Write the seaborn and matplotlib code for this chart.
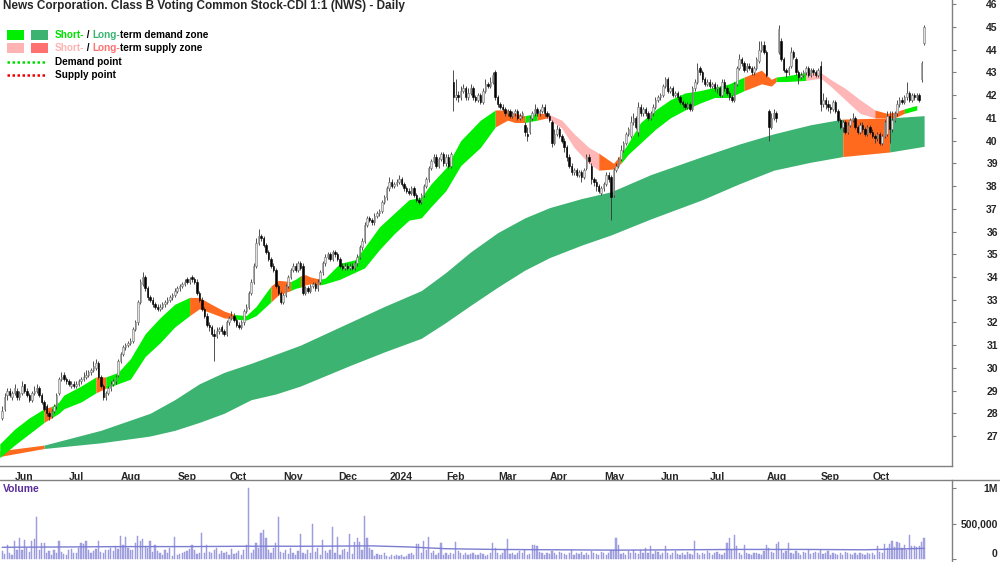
import numpy as np
import pandas as pd
import matplotlib
matplotlib.use("Agg")
import matplotlib.pyplot as plt
import matplotlib.transforms as mtransforms
from matplotlib.patches import Rectangle
from matplotlib.lines import Line2D
import seaborn as sns

title = "News Corporation. Class B Voting Common Stock-CDI 1:1 (NWS) - Daily"
start_date = "2023-05-26"
month_labels = ["Jun", "Jul", "Aug", "Sep", "Oct", "Nov", "Dec", "2024", "Feb",
                "Mar", "Apr", "May", "Jun", "Jul", "Aug", "Sep", "Oct"]

# daily candles
opens = [
    27.8, 28.2, 28.8, 29.0, 28.7, 28.9, 29.0, 28.7, 28.9, 29.3,
    29.0, 28.8, 28.6, 28.9, 29.0, 29.1, 28.8, 28.5, 28.3, 28.0,
    27.9, 28.1, 28.3, 28.9, 29.5, 29.7, 29.5, 29.4, 29.2, 29.3,
    29.2, 29.3, 29.4, 29.5, 29.6, 29.7, 29.8, 29.9, 30.0, 30.2,
    29.6, 29.2, 28.7, 28.9, 29.1, 29.3, 29.4, 29.7, 30.3, 30.6,
    30.9, 31.0, 31.1, 31.2, 31.7, 32.0, 32.9, 33.7, 34.0, 33.5,
    33.1, 33.0, 32.8, 32.7, 32.6, 32.7, 32.8, 32.9, 33.0, 33.1,
    33.2, 33.4, 33.5, 33.6, 33.7, 33.9, 33.8, 34.0, 33.9, 33.8,
    33.3, 33.0, 32.6, 32.3, 31.9, 31.8, 31.5, 31.4, 31.6, 31.8,
    31.6, 31.5, 32.0, 32.2, 32.3, 32.1, 31.9, 31.8, 32.0, 32.5,
    32.7, 33.3, 33.8, 34.5, 35.5, 35.8, 35.7, 35.4, 35.1, 34.8,
    34.5, 34.3, 33.6, 33.3, 32.9, 33.2, 33.6, 34.0, 34.3, 34.5,
    34.3, 34.6, 34.5, 33.3, 33.5, 33.4, 33.6, 33.7, 33.5, 33.8,
    34.2, 34.6, 34.9, 35.0, 34.8, 35.1, 35.0, 34.8, 34.5, 34.4,
    34.5, 34.4, 34.5, 34.4, 34.6, 34.9, 35.3, 35.6, 36.3, 36.6,
    36.5, 36.4, 36.7, 36.8, 36.9, 37.3, 37.5, 37.9, 38.2, 38.0,
    38.1, 38.2, 38.3, 38.1, 37.9, 37.8, 37.7, 37.9, 37.6, 37.4,
    37.3, 37.6, 38.0, 38.3, 38.8, 39.1, 39.3, 38.9, 39.2, 39.4,
    39.0, 39.3, 38.9, 42.6, 41.9, 42.0, 41.9, 42.2, 42.3, 41.9,
    42.1, 42.3, 41.9, 41.8, 42.0, 41.7, 42.2, 42.5, 42.4, 42.6,
    43.0, 41.9, 41.6, 41.5, 41.4, 41.2, 41.3, 41.1, 41.2, 41.3,
    41.0, 41.1, 40.7, 40.3, 40.4, 41.0, 41.2, 41.4, 41.2, 41.3,
    41.5, 41.2, 41.1, 40.8, 39.9, 40.3, 40.5, 40.2, 40.0, 39.7,
    39.3, 38.9, 38.6, 38.7, 38.5, 38.6, 38.4, 38.8, 39.3, 38.9,
    38.3, 38.2, 38.0, 37.7, 37.9, 38.1, 38.5, 38.4, 37.6, 38.7,
    38.9, 39.2, 39.6, 39.9, 40.3, 40.2, 40.8, 41.0, 40.4, 41.5,
    41.2, 41.4, 41.2, 41.0, 41.2, 41.5, 41.8, 41.9, 42.0, 42.4,
    42.7, 42.2, 42.3, 42.0, 42.1, 41.9, 41.7, 41.6, 41.5, 41.6,
    41.4, 42.3, 42.6, 43.2, 43.0, 42.7, 42.5, 42.6, 42.4, 42.5,
    42.3, 42.3, 42.0, 42.6, 42.3, 42.1, 41.9, 41.8, 42.5, 43.2,
    43.6, 43.4, 43.1, 43.3, 43.2, 43.0, 43.2, 43.5, 44.0, 44.2,
    43.9, 41.3, 40.6, 41.0, 41.2, 43.9, 44.4, 43.6, 43.1, 43.0,
    43.3, 43.9, 43.6, 43.0, 42.8, 42.9, 43.0, 43.2, 42.9, 43.1,
    43.0, 42.9, 43.3, 41.6, 41.8, 41.6, 41.5, 41.4, 41.7, 41.3,
    40.9, 40.6, 40.8, 40.4, 40.7, 40.9, 41.0, 40.6, 40.4, 40.7,
    40.5, 40.3, 40.6, 40.4, 40.2, 40.1, 40.3, 39.9, 40.2, 40.3,
    41.1, 40.5, 40.9, 41.2, 41.6, 41.8, 41.7, 41.9, 42.1, 41.8,
    42.0, 41.9, 42.0, 42.7, 44.3,
]
highs = [
    28.3, 28.9, 29.1, 29.1, 29.0, 29.3, 29.1, 29.0, 29.4, 29.3,
    29.1, 28.9, 29.0, 29.2, 29.3, 29.2, 28.9, 28.6, 28.4, 28.1,
    28.2, 28.4, 28.9, 29.6, 29.8, 29.8, 29.6, 29.5, 29.4, 29.4,
    29.4, 29.5, 29.6, 29.8, 29.9, 29.9, 30.0, 30.3, 30.4, 30.3,
    29.7, 29.3, 29.0, 29.2, 29.4, 29.5, 29.7, 30.4, 30.7, 31.0,
    31.1, 31.2, 31.3, 31.8, 32.1, 33.0, 33.9, 34.2, 34.1, 33.6,
    33.2, 33.1, 32.9, 32.8, 32.8, 32.9, 33.0, 33.1, 33.2, 33.3,
    33.5, 33.6, 33.7, 33.8, 33.9, 34.0, 34.0, 34.1, 34.0, 33.9,
    33.4, 33.1, 32.7, 32.4, 32.0, 31.9, 31.7, 31.8, 31.8, 31.9,
    31.7, 32.1, 32.3, 32.5, 32.4, 32.2, 32.0, 32.1, 32.6, 32.8,
    33.4, 33.9, 34.6, 35.7, 36.1, 35.9, 35.8, 35.5, 35.2, 34.9,
    34.6, 34.4, 33.7, 33.4, 33.3, 33.7, 34.1, 34.4, 34.6, 34.6,
    34.7, 34.7, 34.6, 33.6, 33.6, 33.7, 33.8, 33.8, 33.9, 34.3,
    34.7, 35.0, 35.1, 35.1, 35.2, 35.2, 35.1, 34.9, 34.6, 34.6,
    34.6, 34.6, 34.6, 34.7, 35.0, 35.4, 35.7, 36.4, 36.7, 36.7,
    36.6, 36.8, 36.9, 37.0, 37.4, 37.6, 38.0, 38.4, 38.3, 38.2,
    38.3, 38.5, 38.4, 38.2, 38.0, 37.9, 38.0, 38.0, 37.7, 37.5,
    37.7, 38.1, 38.4, 38.9, 39.2, 39.4, 39.4, 39.3, 39.5, 39.5,
    39.4, 39.4, 39.5, 43.1, 42.7, 42.2, 42.4, 42.5, 42.4, 42.3,
    42.5, 42.4, 42.0, 42.1, 42.1, 42.3, 42.7, 42.6, 42.8, 43.0,
    43.1, 42.0, 41.7, 41.6, 41.5, 41.4, 41.4, 41.3, 41.4, 41.4,
    41.2, 41.3, 40.8, 40.6, 41.1, 41.3, 41.6, 41.5, 41.4, 41.6,
    41.6, 41.3, 41.2, 40.9, 40.5, 40.7, 40.6, 40.3, 40.1, 39.8,
    39.4, 39.0, 38.8, 38.8, 38.7, 38.7, 38.8, 39.4, 39.4, 39.0,
    38.4, 38.3, 38.1, 38.0, 38.2, 38.6, 38.6, 38.5, 38.8, 39.0,
    39.3, 39.8, 40.0, 40.4, 40.6, 41.1, 41.2, 41.1, 41.7, 41.6,
    41.5, 41.5, 41.3, 41.3, 41.6, 41.9, 42.0, 42.1, 42.5, 42.8,
    42.8, 42.4, 42.4, 42.2, 42.2, 42.0, 41.8, 41.7, 41.7, 41.7,
    42.4, 42.7, 43.4, 43.3, 43.1, 42.8, 42.7, 42.7, 42.6, 42.6,
    42.5, 42.4, 42.7, 42.7, 42.4, 42.2, 42.0, 42.6, 43.3, 43.8,
    43.7, 43.5, 43.4, 43.4, 43.3, 43.3, 43.7, 44.4, 44.4, 44.4,
    44.0, 41.4, 41.2, 41.4, 41.3, 45.1, 44.5, 43.7, 43.2, 43.3,
    44.1, 44.0, 43.7, 43.1, 43.0, 43.1, 43.3, 43.3, 43.2, 43.2,
    43.1, 43.2, 43.5, 42.1, 41.9, 41.8, 41.6, 41.8, 41.8, 41.4,
    41.0, 40.9, 40.9, 40.8, 41.0, 41.2, 41.1, 40.7, 40.8, 40.8,
    40.6, 40.7, 40.7, 40.5, 40.3, 40.4, 40.4, 40.3, 40.9, 41.3,
    41.3, 41.3, 41.3, 41.8, 41.9, 41.9, 42.0, 42.6, 42.2, 42.1,
    42.1, 42.1, 42.1, 43.5, 45.1,
]
lows = [
    27.7, 28.1, 28.6, 28.7, 28.6, 28.8, 28.6, 28.6, 28.8, 28.9,
    28.7, 28.5, 28.5, 28.8, 28.9, 28.7, 28.4, 28.1, 27.9, 27.7,
    27.8, 28.0, 28.2, 28.8, 29.4, 29.4, 29.3, 29.2, 29.1, 29.1,
    29.1, 29.2, 29.3, 29.4, 29.5, 29.6, 29.7, 29.8, 29.9, 29.5,
    29.1, 28.6, 28.6, 28.8, 29.0, 29.2, 29.3, 29.6, 30.2, 30.5,
    30.8, 30.9, 31.0, 31.1, 31.6, 31.9, 32.8, 33.6, 33.4, 33.0,
    32.9, 32.7, 32.6, 32.5, 32.5, 32.6, 32.7, 32.8, 32.9, 33.0,
    33.1, 33.3, 33.4, 33.5, 33.6, 33.7, 33.7, 33.8, 33.7, 33.2,
    32.9, 32.5, 32.2, 31.8, 31.6, 31.4, 30.3, 31.3, 31.5, 31.5,
    31.4, 31.4, 31.9, 32.1, 32.0, 31.8, 31.7, 31.7, 31.9, 32.4,
    32.6, 33.2, 33.7, 34.4, 35.4, 35.6, 35.3, 35.0, 34.7, 34.4,
    34.2, 33.5, 33.2, 32.8, 32.8, 33.1, 33.5, 33.9, 34.2, 34.2,
    34.2, 34.3, 33.2, 33.2, 33.3, 33.3, 33.5, 33.4, 33.4, 33.7,
    34.1, 34.5, 34.8, 34.7, 34.7, 34.9, 34.7, 34.4, 34.3, 34.3,
    34.3, 34.3, 34.3, 34.3, 34.5, 34.8, 35.2, 35.5, 36.2, 36.4,
    36.3, 36.3, 36.6, 36.7, 36.8, 37.2, 37.4, 37.8, 37.9, 37.9,
    38.0, 38.1, 38.0, 37.8, 37.7, 37.6, 37.6, 37.5, 37.3, 37.2,
    37.2, 37.5, 37.9, 38.2, 38.7, 39.0, 38.8, 38.8, 39.1, 38.9,
    38.9, 38.8, 38.8, 41.3, 41.8, 41.7, 41.8, 42.1, 41.8, 41.8,
    42.0, 41.8, 41.7, 41.7, 41.6, 41.6, 42.1, 42.3, 42.3, 42.5,
    41.8, 41.5, 41.4, 41.3, 41.1, 41.1, 41.0, 41.0, 41.1, 40.9,
    40.9, 41.0, 40.2, 40.0, 40.3, 40.9, 41.1, 41.1, 41.1, 41.2,
    41.1, 41.0, 40.8, 39.7, 39.8, 40.2, 40.1, 39.9, 39.5, 39.1,
    38.8, 38.5, 38.5, 38.4, 38.4, 38.2, 38.3, 38.7, 39.0, 38.1,
    38.0, 37.8, 37.7, 37.6, 37.8, 38.0, 38.2, 36.5, 37.5, 38.6,
    38.8, 39.1, 39.5, 39.8, 40.2, 40.1, 40.7, 40.5, 40.2, 41.1,
    41.1, 41.1, 40.9, 40.9, 41.1, 41.4, 41.7, 41.8, 41.9, 42.3,
    42.1, 42.1, 41.9, 41.9, 41.8, 41.6, 41.5, 41.4, 41.4, 41.3,
    41.3, 42.2, 42.5, 42.9, 42.6, 42.4, 42.4, 42.3, 42.3, 42.2,
    42.1, 41.9, 41.9, 42.2, 42.0, 41.8, 41.7, 41.7, 42.4, 43.1,
    43.3, 43.0, 43.0, 43.1, 42.9, 42.9, 43.1, 43.4, 43.9, 43.8,
    42.8, 40.0, 40.5, 40.9, 40.8, 43.8, 43.5, 43.0, 42.8, 42.9,
    43.2, 43.6, 42.9, 42.5, 42.7, 42.8, 42.9, 42.8, 42.8, 42.9,
    42.8, 42.8, 41.3, 41.5, 41.4, 41.3, 41.2, 41.3, 41.2, 40.8,
    40.5, 40.4, 40.3, 40.3, 40.6, 40.8, 40.5, 40.3, 40.3, 40.4,
    40.2, 40.2, 40.3, 40.1, 39.9, 40.0, 39.8, 39.8, 40.1, 40.2,
    39.9, 40.4, 40.8, 41.1, 41.5, 41.6, 41.6, 41.8, 41.7, 41.7,
    41.8, 41.8, 41.7, 42.6, 44.2,
]
closes = [
    28.1, 28.7, 29.0, 28.8, 28.9, 29.1, 28.7, 28.9, 29.2, 29.0,
    28.8, 28.6, 28.9, 29.0, 29.1, 28.8, 28.5, 28.2, 28.0, 27.9,
    28.1, 28.3, 28.8, 29.5, 29.6, 29.5, 29.4, 29.3, 29.3, 29.2,
    29.3, 29.4, 29.5, 29.6, 29.7, 29.8, 29.9, 30.1, 30.2, 29.6,
    29.2, 28.7, 28.9, 29.1, 29.3, 29.4, 29.6, 30.3, 30.6, 30.9,
    31.0, 31.1, 31.2, 31.7, 32.0, 32.9, 33.8, 34.0, 33.5, 33.1,
    33.0, 32.8, 32.7, 32.6, 32.7, 32.8, 32.9, 33.0, 33.1, 33.2,
    33.4, 33.5, 33.6, 33.7, 33.8, 33.8, 33.9, 33.9, 33.8, 33.3,
    33.0, 32.6, 32.3, 31.9, 31.8, 31.5, 31.4, 31.6, 31.7, 31.6,
    31.5, 32.0, 32.2, 32.3, 32.1, 31.9, 31.8, 32.0, 32.5, 32.7,
    33.3, 33.8, 34.5, 35.5, 35.8, 35.7, 35.4, 35.1, 34.8, 34.5,
    34.3, 33.6, 33.3, 32.9, 33.2, 33.6, 34.0, 34.3, 34.5, 34.3,
    34.6, 34.4, 33.3, 33.5, 33.4, 33.6, 33.7, 33.5, 33.8, 34.2,
    34.6, 34.9, 35.0, 34.8, 35.1, 35.0, 34.8, 34.5, 34.4, 34.5,
    34.4, 34.5, 34.4, 34.6, 34.9, 35.3, 35.6, 36.3, 36.6, 36.5,
    36.4, 36.7, 36.8, 36.9, 37.3, 37.5, 37.9, 38.2, 38.0, 38.1,
    38.2, 38.3, 38.1, 37.9, 37.8, 37.7, 37.9, 37.6, 37.4, 37.3,
    37.6, 38.0, 38.3, 38.8, 39.1, 39.3, 38.9, 39.2, 39.4, 39.0,
    39.3, 38.9, 39.4, 41.9, 42.0, 41.9, 42.2, 42.3, 41.9, 42.1,
    42.3, 41.9, 41.8, 42.0, 41.7, 42.2, 42.5, 42.4, 42.6, 42.9,
    41.9, 41.6, 41.5, 41.4, 41.2, 41.3, 41.1, 41.2, 41.3, 41.0,
    41.1, 41.2, 40.4, 40.2, 41.0, 41.2, 41.4, 41.2, 41.3, 41.5,
    41.2, 41.1, 40.9, 39.9, 40.3, 40.5, 40.2, 40.0, 39.7, 39.3,
    38.9, 38.6, 38.7, 38.5, 38.6, 38.4, 38.7, 39.3, 39.1, 38.3,
    38.2, 38.0, 37.8, 37.9, 38.1, 38.5, 38.3, 37.5, 38.7, 38.9,
    39.2, 39.6, 39.9, 40.3, 40.5, 40.8, 41.0, 40.6, 41.5, 41.2,
    41.4, 41.2, 41.0, 41.2, 41.5, 41.8, 41.9, 42.0, 42.4, 42.7,
    42.2, 42.3, 42.0, 42.1, 41.9, 41.7, 41.6, 41.5, 41.6, 41.4,
    42.3, 42.6, 43.1, 43.0, 42.7, 42.5, 42.6, 42.4, 42.5, 42.3,
    42.3, 42.0, 42.6, 42.3, 42.1, 41.9, 41.8, 42.5, 43.2, 43.6,
    43.4, 43.1, 43.3, 43.2, 43.0, 43.2, 43.6, 44.0, 44.2, 43.9,
    42.9, 40.6, 41.0, 41.2, 41.0, 44.9, 43.6, 43.1, 43.0, 43.2,
    43.9, 43.7, 43.0, 42.8, 42.9, 43.0, 43.2, 42.9, 43.1, 43.0,
    42.9, 43.1, 41.6, 41.8, 41.6, 41.5, 41.4, 41.7, 41.3, 40.9,
    40.6, 40.8, 40.4, 40.7, 40.9, 41.0, 40.6, 40.4, 40.7, 40.5,
    40.3, 40.6, 40.4, 40.2, 40.1, 40.3, 39.9, 40.2, 40.8, 41.1,
    40.5, 40.9, 41.2, 41.6, 41.8, 41.7, 41.9, 42.1, 41.8, 42.0,
    41.9, 42.0, 41.8, 43.4, 45.0,
]
# volume in thousands of shares
volume_k = [
    110, 70, 200, 90, 60, 250, 120, 290, 130, 270,
    150, 100, 250, 280, 590, 120, 230, 230, 80, 110,
    60, 130, 90, 250, 100, 70, 60, 120, 140, 90,
    80, 160, 220, 210, 250, 120, 90, 110, 140, 260,
    100, 80, 130, 120, 150, 110, 190, 140, 320, 200,
    310, 150, 130, 120, 230, 330, 250, 280, 190, 160,
    250, 100, 200, 110, 90, 60, 130, 80, 150, 40,
    310, 50, 70, 80, 100, 110, 140, 200, 120, 70,
    90, 360, 80, 200, 100, 90, 130, 150, 70, 110,
    80, 100, 60, 140, 70, 90, 110, 60, 130, 200,
    1000, 80, 120, 230, 150, 370, 410, 290, 130, 80,
    160, 220, 590, 100, 80, 130, 70, 150, 90, 60,
    110, 350, 90, 70, 120, 80, 500, 100, 150, 60,
    270, 110, 80, 120, 450, 90, 310, 60, 130, 140,
    100, 350, 70, 240, 300, 240, 130, 600, 290, 160,
    120, 40, 70, 60, 50, 80, 40, 30, 60, 40,
    50, 40, 60, 30, 40, 70, 90, 60, 210, 210,
    80, 250, 130, 310, 90, 110, 60, 80, 230, 50,
    90, 60, 80, 70, 240, 110, 90, 60, 80, 50,
    70, 90, 60, 50, 80, 70, 40, 60, 90, 220,
    160, 90, 60, 80, 120, 280, 70, 90, 60, 80,
    110, 90, 130, 60, 70, 200, 200, 190, 100, 80,
    60, 90, 70, 110, 80, 60, 100, 90, 70, 50,
    80, 120, 60, 90, 70, 100, 60, 80, 50, 110,
    90, 70, 60, 100, 80, 60, 90, 120, 130, 300,
    200, 70, 90, 60, 110, 80, 130, 90, 70, 120,
    80, 150, 90, 190, 70, 110, 100, 60, 90, 190,
    80, 60, 90, 110, 70, 50, 80, 60, 100, 70,
    60, 250, 90, 60, 80, 70, 110, 90, 60, 80,
    100, 70, 60, 90, 230, 300, 120, 340, 190, 80,
    60, 200, 90, 70, 60, 80, 90, 70, 60, 110,
    200, 150, 100, 90, 210, 240, 130, 80, 110, 230,
    90, 70, 110, 80, 60, 100, 90, 120, 70, 80,
    100, 90, 120, 70, 80, 110, 60, 90, 70, 50,
    80, 60, 100, 90, 70, 60, 80, 50, 90, 70,
    60, 80, 70, 90, 50, 180, 100, 80, 210, 160,
    210, 260, 170, 240, 220, 150, 200, 130, 340, 180,
    190, 170, 180, 240, 300,
]
vol_avg_idx = [0, 25, 50, 75, 100, 125, 150, 165, 180, 200, 225, 250, 275, 300, 325, 350, 374]
vol_avg_k = [165, 170, 175, 175, 180, 180, 185, 170, 145, 135, 130, 125, 130, 135, 135, 130, 150]

# short-term zone edges (bar index) and zone type of each segment
short_idx = [-1, 5, 11, 17, 20, 23, 25, 32, 38, 40, 42, 47, 52, 58, 64, 70, 76, 80, 84, 90,
             94, 99, 103, 109, 112, 117, 119, 121, 123, 125, 129, 131, 137, 143, 147, 153, 159,
             165, 170, 174, 180, 186, 194, 200, 205, 208, 212, 217, 221, 227, 232, 238, 242,
             248, 251, 254, 259, 265, 271, 277, 283, 289, 295, 301, 308, 312, 314, 318, 326,
             332, 336, 342, 348, 354, 359, 362, 366, 371, 374]
short_upper = [26.65, 27.3, 27.8, 28.2, 28.3, 28.5, 28.8, 29.2, 29.6, 29.6, 29.6, 29.8, 30.4,
               31.5, 32.2, 32.8, 33.1, 33.1, 32.85, 32.5, 32.35, 32.3, 32.7, 33.6, 33.85, 33.8,
               33.9, 34.05, 34.1, 34.0, 33.9, 33.95, 34.6, 34.75, 35.3, 36.2, 36.8, 37.4, 37.5,
               38.1, 38.8, 40.0, 40.9, 41.35, 41.35, 41.2, 41.1, 41.2, 41.2, 40.9, 40.3, 39.7,
               39.45, 39.0, 39.4, 39.9, 40.8, 41.35, 41.8, 42.1, 42.2, 42.35, 42.5, 42.8, 43.1,
               42.7, 42.8, 42.85, 43.0, 43.0, 42.7, 42.3, 41.8, 41.35, 41.2, 41.25, 41.4, 41.55,
               42.0]
short_lower = [26.05, 26.6, 27.1, 27.6, 27.8, 28.0, 28.2, 28.5, 28.9, 29.0, 29.1, 29.3, 29.5,
               30.5, 31.1, 31.8, 32.3, 32.6, 32.45, 32.2, 32.15, 32.1, 32.3, 32.9, 33.2, 33.4,
               33.5, 33.55, 33.65, 33.7, 33.65, 33.7, 33.9, 34.2, 34.4, 35.2, 35.9, 36.5, 36.6,
               37.1, 37.8, 38.9, 39.7, 40.6, 40.9, 40.8, 40.8, 40.9, 41.0, 40.55, 39.7, 39.0,
               38.7, 38.75, 39.0, 39.4, 39.9, 40.5, 41.0, 41.35, 41.65, 41.9, 41.9, 42.2, 42.5,
               42.4, 42.6, 42.6, 42.65, 42.75, 42.4, 41.8, 41.2, 41.0, 41.0, 41.0, 41.2, 41.35,
               41.6]
short_state = ["G", "G", "G", "O", "G", "G", "G", "G", "O", "O", "G", "G", "G", "G", "G", "G",
               "O", "O", "O", "O", "G", "G", "G", "O", "O", "G", "G", "O", "O", "O", "G", "G",
               "G", "G", "G", "G", "G", "G", "G", "G", "G", "G", "G", "O", "O", "O", "G", "O",
               "P", "P", "P", "P", "O", "O", "G", "G", "G", "G", "G", "G", "G", "G", "G", "O",
               "O", "O", "G", "G", "P", "P", "P", "P", "P", "O", "O", "O", "G"]

# long-term zone
long_idx = [-1, 17, 40, 60, 70, 80, 90, 101, 111, 121, 141, 155, 170, 180, 190, 201, 212, 222,
            235, 247, 263, 284, 299, 313, 328, 341, 360, 374]
long_upper = [26.35, 26.6, 27.25, 28.0, 28.6, 29.3, 29.8, 30.2, 30.6, 31.0, 32.0, 32.7, 33.4,
              34.2, 35.1, 35.95, 36.6, 37.05, 37.45, 37.75, 38.5, 39.3, 39.85, 40.3, 40.7, 40.95,
              41.0, 41.1]
long_lower = [26.1, 26.45, 26.7, 27.0, 27.25, 27.6, 28.0, 28.6, 28.85, 29.2, 30.1, 30.7, 31.3,
              32.0, 32.75, 33.55, 34.3, 34.85, 35.4, 35.85, 36.55, 37.4, 38.1, 38.7, 39.05, 39.3,
              39.5, 39.75]
long_state = ["O"] + ["G"] * 24 + ["O", "G"]

short_colors = {"G": "#00ee00", "O": "#ff6a1f", "P": "#ffb6b6"}
long_colors = {"G": "#3cb371", "O": "#ff6a1f"}

W, H = 1000, 562
sns.set_theme(style="white")
plt.rcParams["font.family"] = ["Liberation Sans", "DejaVu Sans"]
axis_grey = "#808080"

fig = plt.figure(figsize=(10, 5.62), dpi=100)
ax = fig.add_axes([0, 1 - 466 / H, 952 / W, 466 / H])
axv = fig.add_axes([0, 0, 952 / W, 1 - 480 / H], sharex=ax)


def fill_zone(axis, idx, upper, lower, states, colors):
    idx, upper, lower = map(np.asarray, (idx, upper, lower))
    k = 0
    while k < len(states):
        j = k
        while j + 1 < len(states) and states[j + 1] == states[k]:
            j += 1
        sl = slice(k, j + 2)
        axis.fill_between(idx[sl], lower[sl], upper[sl], color=colors[states[k]],
                          lw=0, zorder=1)
        k = j + 1


fill_zone(ax, long_idx, long_upper, long_lower, long_state, long_colors)
fill_zone(ax, short_idx, short_upper, short_lower, short_state, short_colors)

o = np.array(opens)
h = np.array(highs)
l = np.array(lows)
c = np.array(closes)
x = np.arange(len(c))
up = c >= o
body = np.maximum(np.abs(c - o), 0.05)
ax.vlines(x, l, h, color="#333333", lw=0.6, zorder=3)
ax.bar(x[up], body[up], bottom=o[up], width=0.6, color="#e0e0e0",
       edgecolor="#707070", lw=0.4, zorder=4)
ax.bar(x[~up], body[~up], bottom=c[~up], width=0.6, color="black",
       edgecolor="black", lw=0.4, zorder=4)

# volume panel
vol = np.array(volume_k) * 1000
axv.bar(x, vol, width=0.5, color="#a6a6e2", edgecolor="#9090da", lw=0.3)
sns.lineplot(x=vol_avg_idx, y=np.array(vol_avg_k) * 1000, ax=axv,
             color="#7c7cd2", lw=1.0)

x_right = (952 - 2.2) / 2.465
ax.set_xlim(-0.9, x_right)
ax.set_ylim(25.68, 46.19)
axv.set_ylim(-42000, 1113000)

# month ticks at the first trading day of each month
dates = pd.bdate_range(start_date, periods=len(c))
pos = pd.Series(x, index=dates)
firsts = pos.groupby([dates.year, dates.month]).first().values[1:]
ax.set_xticks(firsts, month_labels)
ax.tick_params(axis="x", direction="out", length=3, width=0.8, color=axis_grey,
               pad=1, labelsize=7.5)
for lab in ax.get_xticklabels():
    lab.set_horizontalalignment("left")
    lab.set_fontweight("bold")
    lab.set_transform(lab.get_transform()
                      + mtransforms.ScaledTranslation(2 / 72, 0, fig.dpi_scale_trans))

ax.yaxis.tick_right()
ax.set_yticks(range(27, 47))
ax.tick_params(axis="y", direction="out", length=3, width=0.8, color=axis_grey,
               pad=30, labelsize=7.5)
for lab in ax.get_yticklabels():
    lab.set_horizontalalignment("right")
    lab.set_fontweight("bold")

axv.yaxis.tick_right()
axv.set_yticks([0, 500000, 1000000], ["0", "500,000", "1M"])
axv.tick_params(axis="y", direction="out", length=3, width=0.8, color=axis_grey,
                pad=30, labelsize=7.5)
axv.tick_params(axis="x", bottom=False, labelbottom=False)
for lab in axv.get_yticklabels():
    lab.set_horizontalalignment("right")
    lab.set_fontweight("bold")
zero_lab = axv.get_yticklabels()[0]
zero_lab.set_verticalalignment("bottom")

for a in (ax, axv):
    a.set_xlabel("")
    a.set_ylabel("")
    for side in ("left", "top"):
        a.spines[side].set_visible(False)
    a.spines["right"].set_color(axis_grey)
    a.spines["right"].set_linewidth(1)
ax.spines["bottom"].set_color(axis_grey)
ax.spines["bottom"].set_linewidth(1)
axv.spines["bottom"].set_visible(False)
axv.spines["top"].set_visible(False)
fig.add_artist(Line2D([0, 1], [1 - 480 / H] * 2, transform=fig.transFigure,
                      color=axis_grey, lw=1))

# header and legend
fig.text(3 / W, 1 - 6 / H, title, ha="left", va="center", fontsize=8.5, weight="bold")
fig.text(3 / W, 1 - 489 / H, "Volume", ha="left", va="center", fontsize=7.5,
         weight="bold", color="#5a2d9c")

swatches = [(35, "#00ee00", "#3cb371"), (48, "#ffb3b3", "#ff7070")]
for yc, c1, c2 in swatches:
    for x0, col in ((7, c1), (31, c2)):
        fig.add_artist(Rectangle((x0 / W, 1 - (yc + 5) / H), 17 / W, 10 / H,
                                 transform=fig.transFigure, color=col, lw=0))
for yc, col in ((62, "#00dd00"), (75, "#ee0000")):
    fig.add_artist(Line2D([7 / W, 47 / W], [1 - yc / H] * 2, transform=fig.transFigure,
                          color=col, lw=1.8, linestyle=(0, (1, 1))))

renderer = fig.canvas.get_renderer()


def colored_line(x_px, y_px, parts):
    for s, col in parts:
        t = fig.text(x_px / W, 1 - y_px / H, s, color=col, fontsize=7.2, weight="bold",
                     ha="left", va="center")
        x_px += t.get_window_extent(renderer).width


colored_line(55, 35, [("Short-", "#00e000"), (" / ", "black"), ("Long-", "#3cb371"),
                      ("term demand zone", "black")])
colored_line(55, 48, [("Short-", "#ffb3b3"), (" / ", "black"), ("Long-", "#ff7070"),
                      ("term supply zone", "black")])
colored_line(55, 62, [("Demand point", "black")])
colored_line(55, 75, [("Supply point", "black")])

fig.savefig("out.png", dpi=100)
